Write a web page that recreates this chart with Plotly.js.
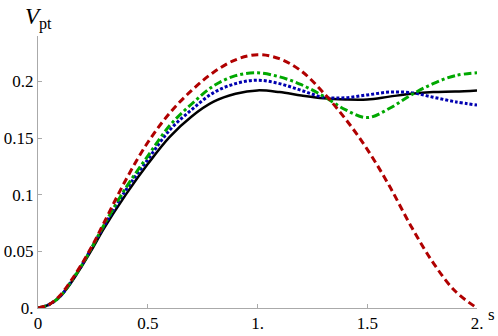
<!DOCTYPE html>
<html lang="en">
<head>
    <meta charset="UTF-8">
    <title>V_pt vs s</title>
    <script src="https://cdn.plot.ly/plotly-3.0.1.min.js"></script>
    <style>
        body { margin: 0; background: white; }
        #chart { width: 498px; height: 336px; }
    </style>
</head>
<body>
    <div id="chart"></div>
    <script>
        // s values and curves
        const sVals = [0, 0.05, 0.1, 0.15, 0.2, 0.25, 0.3, 0.4, 0.5, 0.6, 0.7, 0.8, 0.9, 1.0,
                       1.1, 1.2, 1.3, 1.4, 1.5, 1.6, 1.7, 1.8, 1.9, 2.0];
        const blackVals = [0, 0.003, 0.010, 0.022, 0.037, 0.053, 0.070, 0.100, 0.127, 0.151, 0.169, 0.182, 0.189, 0.192,
                           0.1905, 0.1875, 0.185, 0.184, 0.184, 0.1865, 0.189, 0.1905, 0.191, 0.192];
        const blueVals = [0, 0.003, 0.010, 0.023, 0.038, 0.055, 0.072, 0.104, 0.131, 0.157, 0.175, 0.190, 0.198, 0.201,
                          0.198, 0.192, 0.186, 0.1855, 0.188, 0.1905, 0.190, 0.186, 0.182, 0.179];
        const greenVals = [0, 0.003, 0.010, 0.023, 0.038, 0.055, 0.073, 0.106, 0.134, 0.161, 0.180, 0.196, 0.205, 0.2075,
                           0.204, 0.197, 0.187, 0.175, 0.168, 0.176, 0.188, 0.198, 0.205, 0.2075];
        const redVals = [0, 0.003, 0.011, 0.024, 0.039, 0.056, 0.075, 0.113, 0.146, 0.172, 0.192, 0.208, 0.219, 0.2235,
                         0.220, 0.209, 0.190, 0.167, 0.140, 0.108, 0.072, 0.040, 0.015, 0];

        const xTicks = [0, 0.5, 1, 1.5, 2];
        const xLabels = ["0", "0.5", "1.", "1.5", "2."];
        const yTicks = [0, 0.05, 0.1, 0.15, 0.2];
        const yLabels = ["0.", "0.05", "0.1", "0.15", "0.2"];

        function curve(y, color, dash, width) {
            return {
                x: sVals, y: y, mode: "lines",
                line: {color: color, dash: dash, width: width, shape: "spline", smoothing: 1},
                hoverinfo: "none"
            };
        }

        const traces = [
            curve(blackVals, "#000000", "solid", 2.5),
            curve(blueVals, "#0000b0", "3px,2px", 3),
            curve(greenVals, "#00a800", "8px,3px,3px,3px", 3),
            curve(redVals, "#b00000", "7px,4px", 3)
        ];

        const serif = "'Liberation Serif', 'Times New Roman', serif";
        const axisFont = {family: serif, size: 17, color: "#000"};

        const layout = {
            width: 498, height: 336,
            margin: {l: 38, r: 21, t: 36, b: 28},
            paper_bgcolor: "white", plot_bgcolor: "white",
            showlegend: false,
            xaxis: {
                range: [0, 2], tickvals: xTicks, ticktext: xLabels,
                showgrid: false, zeroline: false, showline: true,
                linecolor: "#aaaaaa", linewidth: 1,
                ticks: "inside", ticklen: 4, tickcolor: "#aaaaaa",
                tickfont: axisFont
            },
            yaxis: {
                range: [0, 0.24], tickvals: yTicks, ticktext: yLabels,
                showgrid: false, zeroline: false, showline: true,
                linecolor: "#aaaaaa", linewidth: 1,
                ticks: "inside", ticklen: 4, tickcolor: "#aaaaaa",
                tickfont: axisFont
            },
            annotations: [
                {
                    text: "<i>V</i><sub>pt</sub>", xref: "paper", yref: "paper",
                    x: 0, y: 1, xanchor: "center", yanchor: "bottom", yshift: 1,
                    showarrow: false,
                    font: {family: serif, size: 23, color: "#000"}
                },
                {
                    text: "s", xref: "paper", yref: "paper",
                    x: 1, y: 0, xanchor: "left", yanchor: "middle", xshift: 9, yshift: -6,
                    showarrow: false, font: axisFont
                }
            ]
        };

        Plotly.newPlot("chart", traces, layout, {staticPlot: true});
    </script>
</body>
</html>
